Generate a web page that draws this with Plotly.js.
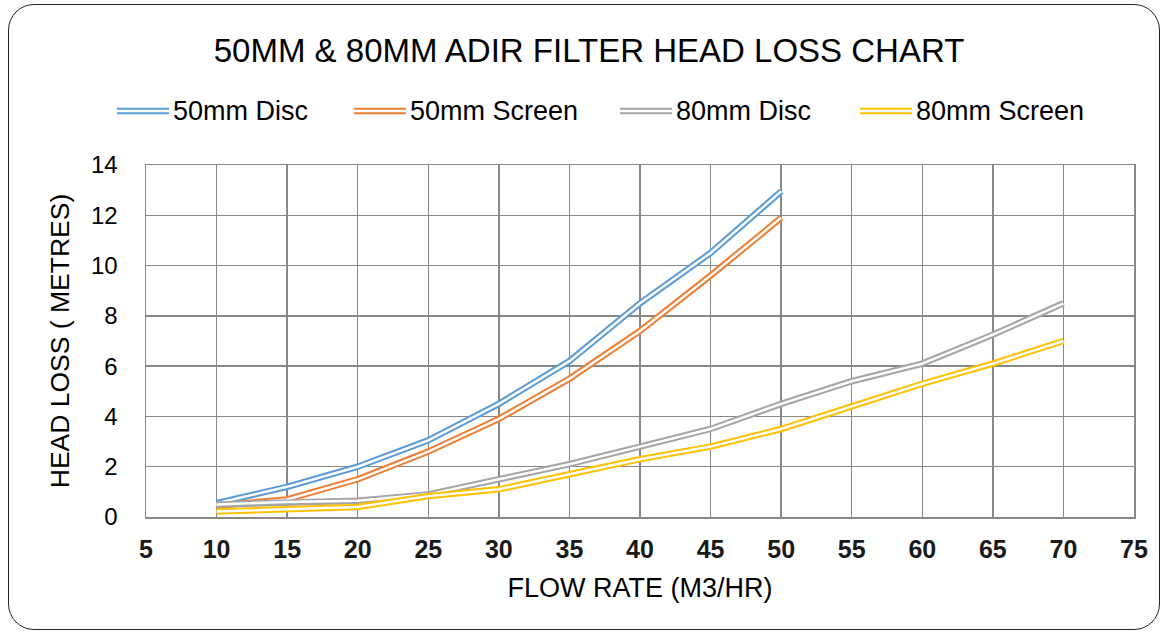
<!DOCTYPE html>
<html>
<head>
<meta charset="utf-8">
<script src="https://cdn.plot.ly/plotly-3.0.1.min.js"></script>
<style>
  html, body { margin: 0; padding: 0; background: #fff; }
  #frame { position: absolute; left: 8px; top: 4px; width: 1150px; height: 624px;
           border: 1.5px solid #222; border-radius: 26px; }
  #chart { position: absolute; left: 0; top: 0; width: 1163px; height: 633px; }
</style>
</head>
<body>
<div id="frame"></div>
<div id="chart"></div>
<script>
// ---- data ----
const flow50 = [10, 15, 20, 25, 30, 35, 40, 45, 50];
const flow80 = [10, 15, 20, 25, 30, 35, 40, 45, 50, 55, 60, 65, 70];
const disc50 = [0.55, 1.2, 2.0, 3.05, 4.5, 6.2, 8.5, 10.5, 12.95];
const screen50 = [0.45, 0.7, 1.5, 2.6, 3.9, 5.5, 7.4, 9.6, 11.9];
const disc80 = [0.5, 0.6, 0.65, 0.9, 1.5, 2.1, 2.8, 3.5, 4.5, 5.4, 6.1, 7.25, 8.5];
const screen80 = [0.22, 0.3, 0.4, 0.83, 1.1, 1.7, 2.3, 2.8, 3.5, 4.4, 5.3, 6.1, 7.0];
const seriesNames = ["50mm Disc", "50mm Screen", "80mm Disc", "80mm Screen"];
const xTicks = [5, 10, 15, 20, 25, 30, 35, 40, 45, 50, 55, 60, 65, 70, 75];
const yTicks = [0, 2, 4, 6, 8, 10, 12, 14];

// ---- style ----
const colors = ["#5b9bd5", "#ed7d31", "#a5a5a5", "#ffc000"];
const FONT = "Liberation Sans, Arial, sans-serif";
const series = [
  {x: flow50, y: disc50},
  {x: flow50, y: screen50},
  {x: flow80, y: disc80},
  {x: flow80, y: screen80}
];

const traces = [];
series.forEach((s, i) => {
  traces.push({x: s.x, y: s.y, type: "scatter", mode: "lines", name: seriesNames[i],
    line: {color: colors[i], width: 6.5}, showlegend: false, hoverinfo: "x+y+name"});
  traces.push({x: s.x, y: s.y, type: "scatter", mode: "lines", name: seriesNames[i],
    line: {color: "#ffffff", width: 2.5}, showlegend: false, hoverinfo: "skip"});
});

// plot area pixel geometry (for legend placement)
const L = 146, R = 1134, T = 165, B = 517;
const W = R - L, H = B - T;
const px = v => (v - L) / W;
const py = v => (B - v) / H;

const legendSym = [117, 354, 620, 860];
const shapes = [], annotations = [];
legendSym.forEach((x0, i) => {
  shapes.push({type: "line", xref: "paper", yref: "paper",
    x0: px(x0), x1: px(x0 + 52), y0: py(111), y1: py(111),
    line: {color: colors[i], width: 6.5}});
  shapes.push({type: "line", xref: "paper", yref: "paper",
    x0: px(x0), x1: px(x0 + 52), y0: py(111), y1: py(111),
    line: {color: "#ffffff", width: 2.5}});
  annotations.push({xref: "paper", yref: "paper", x: px(x0 + 54), y: py(111),
    xanchor: "left", yanchor: "middle", showarrow: false, text: seriesNames[i],
    font: {family: FONT, size: 27, color: "#000"}});
});

const layout = {
  width: 1163, height: 633,
  paper_bgcolor: "rgba(0,0,0,0)", plot_bgcolor: "#ffffff",
  margin: {l: L, r: 1163 - R, t: T, b: 633 - B},
  showlegend: false,
  title: {text: "50MM &amp; 80MM ADIR FILTER HEAD LOSS CHART",
    font: {family: FONT, size: 33, color: "#000"},
    xref: "container", yref: "container", x: 0.5065, y: 1 - 50 / 633,
    xanchor: "center", yanchor: "middle"},
  xaxis: {range: [5, 75], tickvals: xTicks, ticktext: xTicks.map(String),
    showgrid: true, gridcolor: "#888888", gridwidth: 1.5,
    showline: true, mirror: true, linecolor: "#888888", linewidth: 1.5,
    zeroline: false, ticks: "", ticklabelstandoff: 9,
    tickfont: {family: FONT, size: 25, color: "#1a1a1a", weight: "bold"},
    title: {text: "FLOW RATE (M3/HR)", font: {family: FONT, size: 27, color: "#000"}, standoff: 16}},
  yaxis: {range: [0, 14], tickvals: yTicks,
    showgrid: true, gridcolor: "#888888", gridwidth: 1.5,
    showline: true, mirror: true, linecolor: "#888888", linewidth: 1.5,
    zeroline: false, ticks: "", ticklabelstandoff: 22,
    tickfont: {family: FONT, size: 24, color: "#000"},
    title: {text: "HEAD LOSS ( METRES)", font: {family: FONT, size: 26.5, color: "#000"}, standoff: 13}},
  shapes: shapes,
  annotations: annotations
};

Plotly.newPlot("chart", traces, layout, {displayModeBar: false, staticPlot: true});
</script>
</body>
</html>
